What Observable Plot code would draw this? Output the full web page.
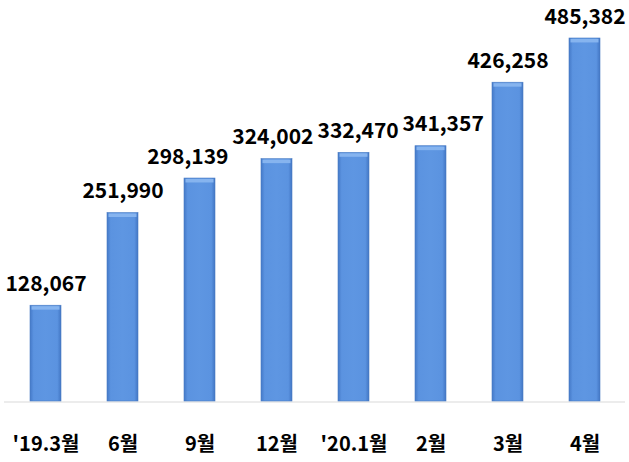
<!DOCTYPE html>
<html>
<head>
<meta charset="utf-8">
<script src="https://cdn.jsdelivr.net/npm/d3@7"></script>
<script src="https://cdn.jsdelivr.net/npm/@observablehq/plot@0.6"></script>
<style>
  html, body { margin: 0; padding: 0; background: #fff; }
  #chart svg { display: block; }
</style>
</head>
<body>
<div id="chart"></div>
<script>
const categories = ["'19.3월", "6월", "9월", "12월", "'20.1월", "2월", "3월", "4월"];
const values = [128067, 251990, 298139, 324002, 332470, 341357, 426258, 485382];

const data = categories.map((c, i) => ({ cat: c, value: values[i] }));

const plot = Plot.plot({
  width: 629,
  height: 462,
  marginTop: 38,
  marginBottom: 61,
  marginLeft: 4,
  marginRight: 4,
  style: { background: "#fff", fontFamily: "'Noto Sans CJK KR', sans-serif" },
  x: { domain: categories, paddingInner: 0.6, paddingOuter: 0.3, axis: null },
  y: { domain: [0, 485382], axis: null },
  marks: [
    Plot.ruleY([0], { stroke: "#d9d9d9", strokeWidth: 1.2, dy: 0.5 }),
    Plot.barY(data, { x: "cat", y: "value", fill: "url(#barGrad)", stroke: "#4a7cc4", strokeWidth: 0.6 }),
    Plot.tickY(data, { x: "cat", y: "value", stroke: "#86b4ef", strokeWidth: 3.5, dy: 2.2, inset: 1.5 }),
    Plot.text(data, {
      x: "cat", y: "value",
      text: d => d3.format(",")(d.value),
      lineAnchor: "bottom", dy: -15,
      fontSize: 21, fontWeight: "bold", fill: "#000",
      className: "val-label"
    }),
    Plot.text(data, {
      x: "cat", y: 0,
      text: "cat",
      lineAnchor: "middle", dy: 43,
      fontSize: 20, fontWeight: "bold", fill: "#000"
    })
  ]
});

const svgns = "http://www.w3.org/2000/svg";
const defs = document.createElementNS(svgns, "defs");
defs.innerHTML = `
  <linearGradient id="barGrad" x1="0" x2="1" y1="0" y2="0">
    <stop offset="0" stop-color="#4479c8"/>
    <stop offset="0.12" stop-color="#5b93e0"/>
    <stop offset="0.5" stop-color="#5e96e2"/>
    <stop offset="0.88" stop-color="#5b93e0"/>
    <stop offset="1" stop-color="#4276c4"/>
  </linearGradient>`;
plot.insertBefore(defs, plot.firstChild);
document.getElementById("chart").appendChild(plot);

// nudge overlapping value labels apart horizontally (measured after layout)
const labels = Array.from(plot.querySelectorAll(".val-label text"));
const boxes = labels.map(t => t.getBoundingClientRect());
const shifts = labels.map(() => 0);
const gap = 4;
for (let iter = 0; iter < 20; iter++) {
  for (let i = 0; i < labels.length - 1; i++) {
    const a = boxes[i], b = boxes[i + 1];
    const vOverlap = a.top < b.bottom - 4 && b.top < a.bottom - 4;
    if (!vOverlap) continue;
    const ov = (a.right + shifts[i] + gap) - (b.left + shifts[i + 1]);
    if (ov > 0.1) { shifts[i] -= ov / 2; shifts[i + 1] += ov / 2; }
  }
}
// keep labels inside the picture
const W = 629;
labels.forEach((t, i) => {
  const r = boxes[i];
  if (r.right + shifts[i] > W - 1) shifts[i] -= r.right + shifts[i] - (W - 1);
  if (r.left + shifts[i] < 1) shifts[i] += 1 - (r.left + shifts[i]);
  if (Math.abs(shifts[i]) > 0.05) {
    t.setAttribute("transform", `translate(${shifts[i].toFixed(2)},0) ` + (t.getAttribute("transform") || ""));
  }
});
</script>
</body>
</html>
